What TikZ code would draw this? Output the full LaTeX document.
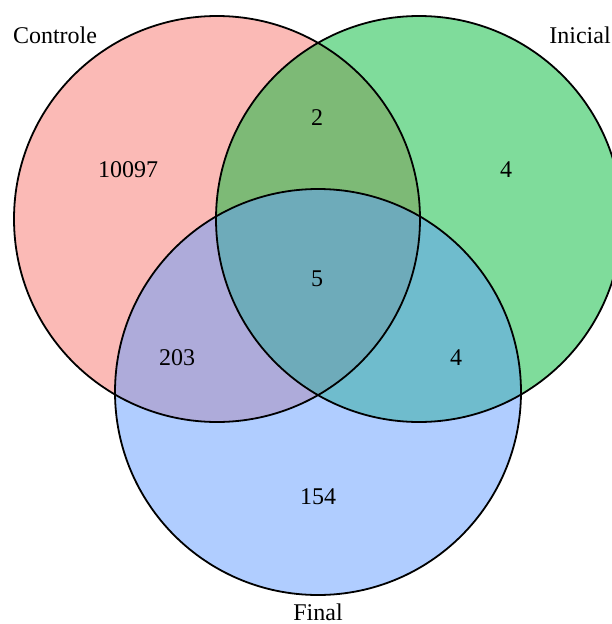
\documentclass[tikz,border=0pt]{standalone}
\usepackage{fontspec}
\setmainfont{Liberation Serif}
\usepackage{tikz}
\definecolor{setred}{HTML}{F8766D}
\definecolor{setgreen}{HTML}{00BA38}
\definecolor{setblue}{HTML}{619CFF}

\begin{document}
\begin{tikzpicture}[x=1pt,y=-1pt,font=\fontsize{24}{28}\selectfont,
    setcircle/.style={circle,inner sep=0pt,minimum size=406pt},
    setfill/.style={fill=#1,fill opacity=0.5},
    setline/.style={draw=black,line width=1.8pt}]
  \useasboundingbox (0,0) rectangle (611,624);
  % fills first
  \node[setcircle,setfill=setred] (controle) at (217,219) {};
  \node[setcircle,setfill=setgreen] (inicial) at (419,219) {};
  \node[setcircle,setfill=setblue] (final) at (318,392) {};
  % outlines on top
  \node[setcircle,setline] at (controle) {};
  \node[setcircle,setline] at (inicial) {};
  \node[setcircle,setline] at (final) {};

  \node (lblcontrole) at (55,35) {Controle};
  \node (lblinicial) at (580,35) {Inicial};
  \node (lblfinal) at (318,612) {Final};

  \node (nc) at (128,170) {10097};
  \node (ci) at (317,118) {2};
  \node (ni) at (506,170) {4};
  \node (cif) at (317,279) {5};
  \node (cf) at (177,358) {203};
  \node (iff) at (456,358) {4};
  \node (nf) at (318,497) {154};
\end{tikzpicture}
\end{document}
